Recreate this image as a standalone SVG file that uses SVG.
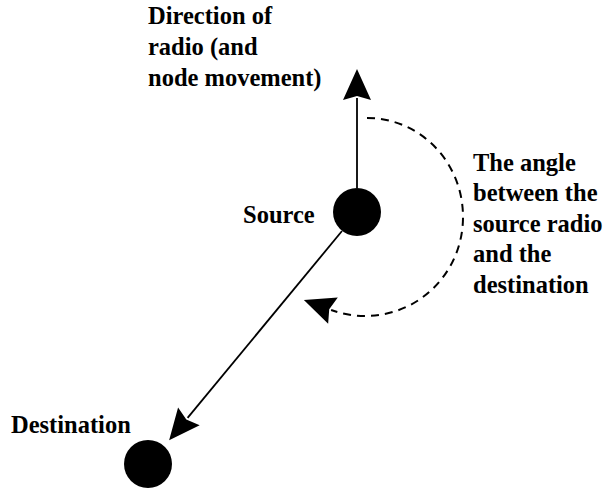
<svg xmlns="http://www.w3.org/2000/svg" width="607" height="488" viewBox="0 0 607 488">
<style>
.t{font-family:'Liberation Serif','Times New Roman',Times,serif;font-weight:700;font-size:24.5px;fill:#000}
.ln{stroke:#000;stroke-width:1.8;fill:none}
.dash{stroke:#000;stroke-width:2;fill:none;stroke-dasharray:8 6}
</style>
<defs>
<marker id="ah" markerUnits="userSpaceOnUse" viewBox="-2 -16 36 32" markerWidth="36" markerHeight="32" refX="2" refY="0" orient="auto">
<path d="M0,-14 L31,0 L0,14 L4,0 Z" fill="#000"/>
</marker>
</defs>
<rect width="607" height="488" fill="#fff"/>
<g id="connectors">
<line class="ln" x1="357" y1="188" x2="357" y2="98" marker-end="url(#ah)"/>
<line class="ln" x1="342" y1="231" x2="187.6" y2="417.9" marker-end="url(#ah)"/>
<path class="dash" d="M367,118 C420.5,118 463,162.3 463,217 C463,271.7 419.7,316 365,316 C353.5,316 342,314 331.1,310" marker-end="url(#ah)"/>
</g>
<g id="source">
<circle cx="357" cy="212" r="24" fill="#000"/>
<text class="t" x="243" y="223">Source</text>
</g>
<g id="destination">
<circle cx="148" cy="464" r="24" fill="#000"/>
<text class="t" x="11" y="433">Destination</text>
</g>
<g id="direction-label">
<text class="t" x="148" y="24">Direction of</text>
<text class="t" x="148" y="55">radio (and</text>
<text class="t" x="148" y="86">node movement)</text>
</g>
<g id="angle-label">
<text class="t" x="473" y="171">The angle</text>
<text class="t" x="473" y="201">between the</text>
<text class="t" x="473" y="232">source radio</text>
<text class="t" x="473" y="262">and the</text>
<text class="t" x="473" y="293">destination</text>
</g>
</svg>
